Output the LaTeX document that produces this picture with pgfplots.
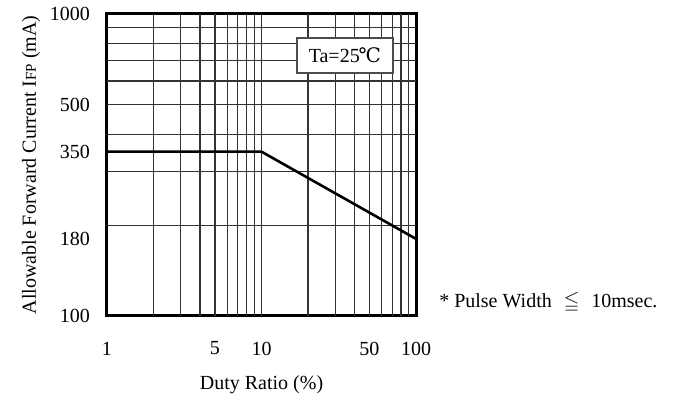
\documentclass[border=0pt]{standalone}
\usepackage{fontspec}
\setmainfont{Liberation Serif}
\newfontfamily\dejavu{DejaVu Serif}
\usepackage{amssymb}
\usepackage{pgfplots}
\pgfplotsset{compat=1.18}
\begin{document}
\begin{tikzpicture}
\useasboundingbox (0,0) rectangle (343pt,200pt);
\begin{axis}[
  at={(53.5pt,42pt)}, anchor=south west,
  scale only axis, width=154.5pt, height=151pt,
  xmode=log, ymode=log,
  xmin=1, xmax=100, ymin=100, ymax=1000,
  /pgf/number format/assume math mode=true,
  xtick={1,5,10,50,100}, xticklabels={1,5,10,50,100},
  ytick={100,180,350,500,1000}, yticklabels={100,180,350,500,1000},
  minor xtick={}, minor ytick={},
  major tick length=0pt,
  extra x ticks={2,3,4,5,6,7,8,9,10,20,30,40,50,60,70,80,90},
  extra x tick labels={},
  extra y ticks={200,300,400,500,600,700,800,900},
  extra y tick labels={},
  extra tick style={grid=major, major grid style={black!80, line width=0.55pt}, major tick length=0pt},
  axis line style={line width=1.5pt},
  xticklabel style={yshift=-9.4pt},
  yticklabel style={xshift=-5pt},
  xlabel={Duty Ratio (\%)},
  xlabel style={at={(axis description cs:0.5,0)}, anchor=center, yshift=-34.5pt},
  ylabel={Allowable Forward Current I{\fontsize{7.5}{8}\selectfont FP} (mA)},
  ylabel style={at={(axis description cs:-0.246,0.5)}, anchor=center},
  clip=false,
]
\addplot[black, line width=1.3pt] coordinates {(1,350) (10,350) (100,180)};
\node[draw=black!70, line width=0.8pt, fill=white, minimum width=48pt, minimum height=17.5pt, inner sep=0pt]
  at (rel axis cs:0.770,0.863) {Ta=25{\dejavu\kern-0.05em℃}};
\node[anchor=west, inner sep=0pt] at (axis description cs:1.074,0.043)
  {* Pulse Width\hspace{6pt}$\leqq$\hspace{6pt}10msec.};
\end{axis}
\end{tikzpicture}
\end{document}
